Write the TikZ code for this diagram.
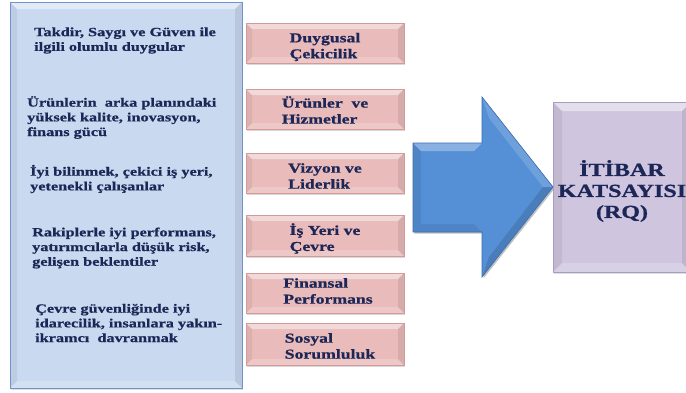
\documentclass[tikz,border=0pt]{standalone}
\usepackage{fontspec}
\setmainfont{Liberation Serif}
\newfontfamily\tf[FakeStretch=1.3,FakeBold=0.8]{Liberation Serif Bold}
\usetikzlibrary{shadows}
\definecolor{txt}{HTML}{1C2757}
\definecolor{leftfill}{HTML}{C9D9EF}
\definecolor{leftedge}{HTML}{6C95CF}
\definecolor{pinkfill}{HTML}{E9BBBA}
\definecolor{pinkedge}{HTML}{D49A99}
\definecolor{arrowfill}{HTML}{5590D6}
\definecolor{arrowdark}{HTML}{3A6DB0}
\definecolor{rqfill}{HTML}{CFC5DF}
\definecolor{rqedge}{HTML}{A99BC4}
\tikzset{
  bev/.style={path picture={
    \fill[white,opacity=0.45] (path picture bounding box.north west) -- (path picture bounding box.north east)
      -- ([xshift=-#1pt,yshift=-#1pt]path picture bounding box.north east)
      -- ([xshift=#1pt,yshift=-#1pt]path picture bounding box.north west) -- cycle;
    \fill[black,opacity=0.06] (path picture bounding box.north west)
      -- ([xshift=#1pt,yshift=-#1pt]path picture bounding box.north west)
      -- ([xshift=#1pt,yshift=#1pt]path picture bounding box.south west)
      -- (path picture bounding box.south west) -- cycle;
    \fill[black,opacity=0.08] (path picture bounding box.north east)
      -- ([xshift=-#1pt,yshift=-#1pt]path picture bounding box.north east)
      -- ([xshift=-#1pt,yshift=#1pt]path picture bounding box.south east)
      -- (path picture bounding box.south east) -- cycle;
    \fill[white,opacity=0.2] (path picture bounding box.south west)
      -- ([xshift=#1pt,yshift=#1pt]path picture bounding box.south west)
      -- ([xshift=-#1pt,yshift=#1pt]path picture bounding box.south east)
      -- (path picture bounding box.south east) -- cycle;
  }},
  leftbox/.style={draw=leftedge,line width=0.8pt,fill=leftfill,minimum width=232pt,minimum height=386pt,inner sep=0pt,bev=7,
    drop shadow={shadow xshift=1pt,shadow yshift=-1.5pt,opacity=0.25}},
  pinkbox/.style={draw=pinkedge,line width=0.6pt,fill=pinkfill,minimum width=158pt,minimum height=40pt,inner sep=0pt,bev=6,
    drop shadow={shadow xshift=1pt,shadow yshift=-1.5pt,opacity=0.3}},
  pinktext/.style={align=left,text=txt,font=\tf\fontsize{13.6}{16}\selectfont,inner sep=0pt},
  lefttext/.style={anchor=west,inner sep=0pt,align=left,text=txt,font=\tf\fontsize{12.5}{14.7}\selectfont},
  rqbox/.style={draw=rqedge,line width=0.6pt,fill=rqfill,minimum width=138pt,minimum height=170pt,inner sep=0pt,bev=9,
    drop shadow={shadow xshift=1pt,shadow yshift=-1.5pt,opacity=0.25}},
  rqtext/.style={align=center,text=txt,font=\tf\fontsize{18.5}{21}\selectfont,inner sep=0pt},
}
\begin{document}
\begin{tikzpicture}[x=1pt,y=-1pt]
\useasboundingbox (0,0) rectangle (686,392);
\fill[white] (0,0) rectangle (686,392);
% left panel
\node[leftbox] (left) at (126,195) {};
\node[lefttext] (t1) at (34,40.5) {Takdir, Saygı ve Güven ile\\ilgili olumlu duygular};
\node[lefttext] (t2) at (27,117.5) {Ürünlerin~ arka planındaki\\yüksek kalite, inovasyon,\\finans gücü};
\node[lefttext] (t3) at (30,179) {İyi bilinmek, çekici iş yeri,\\yetenekli çalışanlar};
\node[lefttext] (t4) at (32,248) {Rakiplerle iyi performans,\\yatırımcılarla düşük risk,\\gelişen beklentiler};
\node[lefttext] (t5) at (35,323) {Çevre güvenliğinde iyi\\idarecilik, insanlara yakın-\\ikramcı~ davranmak};
% pink boxes
\node[pinkbox] (p1) at (325,43) {};
\node[pinkbox] (p2) at (325,109) {};
\node[pinkbox] (p3) at (325,173) {};
\node[pinkbox,minimum height=41pt] (p4) at (325,235.5) {};
\node[pinkbox] (p5) at (325,293) {};
\node[pinkbox,minimum height=42pt] (p6) at (325,344) {};
\node[pinktext] (l1) at ([yshift=-4pt]p1.center) {Duygusal\\Çekicilik};
\node[pinktext] (l2) at ([yshift=-1pt]p2.center) {Ürünler~ ve\\Hizmetler};
\node[pinktext] (l3) at ([yshift=-3pt]p3.center) {Vizyon ve\\Liderlik};
\node[pinktext] (l4) at ([yshift=-3pt]p4.center) {İş Yeri ve\\Çevre};
\node[pinktext] (l5) at ([yshift=2pt,xshift=3pt]p5.center) {Finansal\\Performans};
\node[pinktext] (l6) at ([yshift=-2pt,xshift=5pt]p6.center) {Sosyal\\Sorumluluk};
% big arrow
\fill[black,opacity=0.25] (414.5,144.5) -- (483.5,144.5) -- (483.5,98.5) -- (554.5,188.5) -- (483.5,278.5) -- (483.5,233.5) -- (414.5,233.5) -- cycle;
\fill[arrowfill] (413,143) -- (482,143) -- (482,97) -- (553,187) -- (482,277) -- (482,232) -- (413,232) -- cycle;
\fill[white,opacity=0.3] (413,143) -- (482,143) -- (474,151) -- (421,151) -- cycle;
\fill[black,opacity=0.07] (413,143) -- (421,151) -- (421,224) -- (413,232) -- cycle;
\fill[white,opacity=0.15] (482,97) -- (553,187) -- (543,187) -- (489,118) -- cycle;
\fill[black,opacity=0.12] (553,187) -- (482,277) -- (489,257) -- (543,187) -- cycle;
\fill[black,opacity=0.07] (413,232) -- (421,224) -- (474,224) -- (482,232) -- cycle;
\draw[arrowdark,line width=0.6pt] (413,143) -- (482,143) -- (482,97) -- (553,187) -- (482,277) -- (482,232) -- (413,232) -- cycle;
\coordinate (tip) at (553,187);
% result box
\node[rqbox] (rq) at (622,187) {};
\node[rqtext] (rqt) at ([yshift=-4pt]rq.center) {İTİBAR\\KATSAYISI\\(RQ)};
\end{tikzpicture}
\end{document}
